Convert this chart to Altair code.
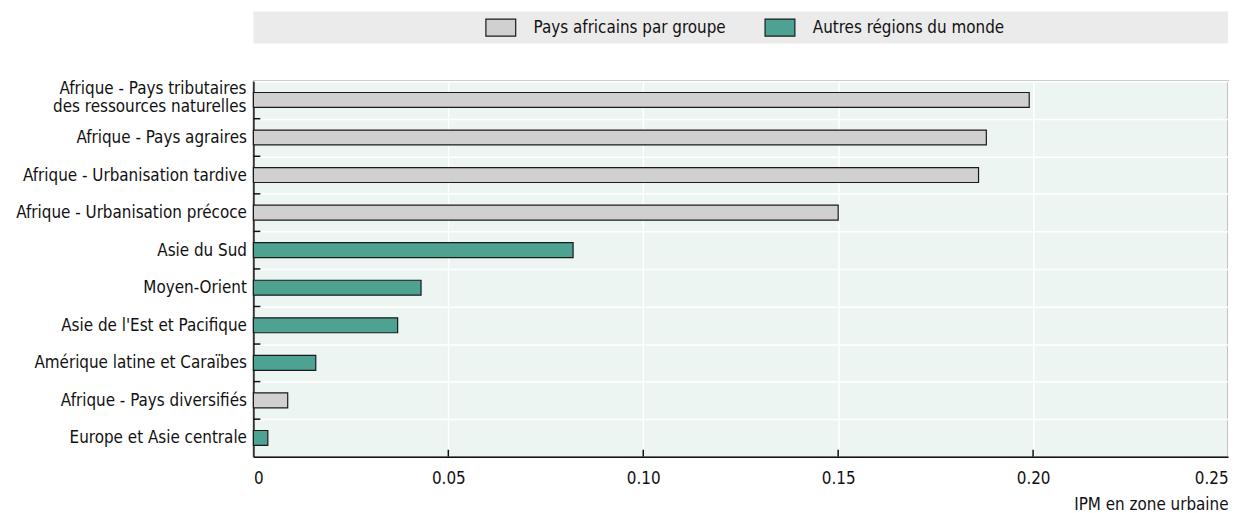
import altair as alt
import pandas as pd

categories = [
    "Afrique - Pays tributaires |des ressources naturelles",
    "Afrique - Pays agraires",
    "Afrique - Urbanisation tardive",
    "Afrique - Urbanisation précoce",
    "Asie du Sud",
    "Moyen-Orient",
    "Asie de l'Est et Pacifique",
    "Amérique latine et Caraïbes",
    "Afrique - Pays diversifiés",
    "Europe et Asie centrale",
]
values = [0.199, 0.188, 0.186, 0.150, 0.082, 0.043, 0.037, 0.016, 0.0088, 0.0037]
groups = [
    "Pays africains par groupe", "Pays africains par groupe", "Pays africains par groupe",
    "Pays africains par groupe", "Autres régions du monde", "Autres régions du monde",
    "Autres régions du monde", "Autres régions du monde", "Pays africains par groupe",
    "Autres régions du monde",
]
group_names = ["Pays africains par groupe", "Autres régions du monde"]
group_colors = ["#d0d0d0", "#4ea292"]
x_ticks = [0.05, 0.10, 0.15, 0.20]

FONT = "DejaVu Sans Condensed, Liberation Sans Narrow, sans-serif"
FS = 17
W, H = 981, 378

df = pd.DataFrame({"cat": categories, "val": values, "grp": groups})
df_ticks = pd.DataFrame({"cat": categories[1:]})
df_xt = pd.DataFrame({"v": x_ticks})
multi = [c for c in categories if "|" in c]
df_multi = pd.DataFrame({"cat": multi, "lines": [c.split("|") for c in multi]})

yscale = alt.Scale(domain=categories, paddingInner=0, paddingOuter=0)
xscale = alt.Scale(domain=[0, 0.25], nice=False)

band = alt.Chart(pd.DataFrame({"a": [0]})).mark_rect(color="#ebebeb").encode(
    x=alt.value(0), x2=alt.value(W), y=alt.value(-70), y2=alt.value(-38)
)

bars = alt.Chart(df).mark_bar(size=15, stroke="#1a1a1a", strokeWidth=1.2).encode(
    y=alt.Y("cat:N", sort=categories, scale=yscale,
            axis=alt.Axis(title=None,
                          labelExpr="indexof(datum.label, '|') >= 0 ? '' : datum.label",
                          labelFont=FONT, labelFontSize=FS, labelColor="#111",
                          labelPadding=7, labelLimit=400,
                          ticks=False, domainColor="#111", domainWidth=1.5,
                          grid=True, gridColor="white", gridWidth=1.5, tickBand="extent")),
    x=alt.X("val:Q", scale=xscale,
            axis=alt.Axis(title="IPM en zone urbaine", titleAnchor="end", titleFont=FONT,
                          titleFontSize=FS, titleFontWeight="normal", titleColor="#111",
                          titlePadding=10,
                          values=[0, 0.05, 0.10, 0.15, 0.20, 0.25],
                          labelExpr="datum.value == 0 ? '0' : format(datum.value, '.2f')",
                          labelFont=FONT, labelFontSize=FS, labelColor="#111", labelPadding=14,
                          ticks=False, domainColor="#111", domainWidth=1.5,
                          grid=True, gridColor="white", gridWidth=1.5)),
    color=alt.Color("grp:N", scale=alt.Scale(domain=group_names, range=group_colors),
                    legend=alt.Legend(title=None, orient="none", legendX=233, legendY=-70,
                                      direction="horizontal", padding=0,
                                      symbolType="M-1,-0.57L1,-0.57L1,0.57L-1,0.57Z",
                                      symbolSize=900, symbolStrokeColor="#1a1a1a",
                                      symbolStrokeWidth=1.2, symbolOpacity=1,
                                      labelFont=FONT, labelFontSize=FS, labelColor="#111",
                                      labelLimit=400,
                                      labelOffset=17, columnPadding=36, zindex=1)),
)

multi_label = alt.Chart(df_multi).mark_text(
    align="right", baseline="middle", dy=-11, lineHeight=18,
    font=FONT, fontSize=FS, color="#111",
).encode(
    y=alt.Y("cat:N", sort=categories, scale=yscale),
    x=alt.value(-7),
    text="lines",
)

yticks = alt.Chart(df_ticks).mark_rule(color="#111", strokeWidth=1.5).encode(
    y=alt.Y("cat:N", sort=categories, scale=yscale, bandPosition=0),
    x=alt.value(0), x2=alt.value(7),
)
xticks = alt.Chart(df_xt).mark_rule(color="#111", strokeWidth=1.5).encode(
    x=alt.X("v:Q", scale=xscale), y=alt.value(H - 7), y2=alt.value(H),
)

chart = alt.layer(band, bars, multi_label, yticks, xticks).properties(
    width=W, height=H,
    background="white",
    autosize=alt.AutoSizeParams(type="none"),
    padding={"left": 247, "top": 72, "right": 7, "bottom": 55},
).configure_view(fill="#edf5f3", stroke="#9a9a9a", strokeWidth=1.5)

chart.save("out.html", embed_options={"renderer": "svg", "actions": False})
